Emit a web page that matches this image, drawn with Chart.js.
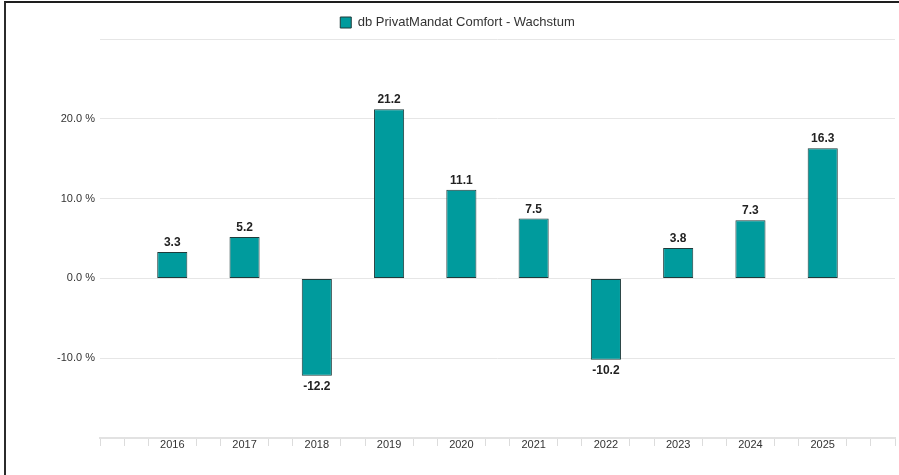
<!DOCTYPE html>
<html>
<head>
<meta charset="utf-8">
<script src="https://cdn.jsdelivr.net/npm/chart.js@4"></script>
<style>
  html, body { margin: 0; padding: 0; background: #fff; }
  #wrap { position: relative; width: 899px; height: 475px; }
  #frame {
    position: absolute; left: 4px; top: 1px; right: 0; bottom: 0;
    border-left: 2px solid #2b2b2b; border-top: 2px solid #1e1e1e;
    pointer-events: none;
  }
</style>
</head>
<body>
<div id="wrap">
  <canvas id="grafikWachstum"></canvas>
  <div id="frame"></div>
</div>
<script>
const years = [2016, 2017, 2018, 2019, 2020, 2021, 2022, 2023, 2024, 2025];
const wachstum = [3.3, 5.2, -12.2, 21.2, 11.1, 7.5, -10.2, 3.8, 7.3, 16.3];
const yTickLabels = [20, 10, 0, -10];
const seriesName = 'db PrivatMandat Comfort - Wachstum';

const xMin = years[0] - 1;
const xMax = years[years.length - 1] + 1;

function isYear(v) {
    const r = Math.round(v);
    return Math.abs(v - r) < 1e-6 && years.includes(r);
}

// Werte ueber/unter den Balken
const valueLabels = {
    id: 'valueLabels',
    afterDatasetsDraw(chart) {
        const c = chart.ctx;
        const meta = chart.getDatasetMeta(0);
        c.save();
        c.font = 'bold 12px "Liberation Sans", Arial, sans-serif';
        c.fillStyle = '#222';
        c.textAlign = 'center';
        meta.data.forEach((bar, i) => {
            const v = wachstum[i];
            if (v >= 0) {
                c.textBaseline = 'alphabetic';
                c.fillText(v.toFixed(1), bar.x, bar.y - 6);
            } else {
                c.textBaseline = 'top';
                c.fillText(v.toFixed(1), bar.x, bar.y + 5);
            }
        });
        c.restore();
    }
};

const ctx = document.getElementById('grafikWachstum').getContext('2d');

const dataWachstum = {
    datasets: [{
        label: seriesName,
        data: years.map((y, i) => ({ x: y, y: wachstum[i] })),
        backgroundColor: '#009b9d',
        borderColor: '#1f3b3b',
        borderWidth: 1,
        borderSkipped: false,
        categoryPercentage: 1,
        barPercentage: 1.25,
    }]
};

const configWachstum = {
    type: 'bar',
    data: dataWachstum,
    plugins: [valueLabels],
    options: {
        responsive: true,
        maintainAspectRatio: false,
        animation: false,
        layout: { padding: { top: 8, right: 4, left: 20, bottom: 0 } },
        scales: {
            x: {
                type: 'linear',
                offset: false,
                min: xMin,
                max: xMax,
                afterBuildTicks: (scale) => {
                    const t = [];
                    for (let i = 0; i <= (xMax - xMin) * 3; i++) t.push({ value: xMin + i / 3 });
                    scale.ticks = t;
                },
                afterFit: (scale) => { scale.height = 37; },
                border: { display: true, color: '#e2e2e2', width: 2 },
                grid: {
                    offset: false,
                    drawOnChartArea: false,
                    drawTicks: true,
                    tickLength: 8,
                    tickColor: (c) => (c.tick && isYear(c.tick.value)) ? 'rgba(0,0,0,0)' : '#dcdcdc',
                },
                ticks: {
                    autoSkip: false,
                    maxRotation: 0,
                    padding: -8,
                    color: '#333',
                    font: { family: '"Liberation Sans", Arial, sans-serif', size: 11 },
                    callback: (v) => isYear(v) ? String(Math.round(v)) : '',
                }
            },
            y: {
                min: -20,
                max: 30,
                afterFit: (scale) => { scale.width = 80; },
                border: { display: false },
                grid: { color: '#e6e6e6', drawTicks: false },
                ticks: {
                    stepSize: 10,
                    padding: 5,
                    color: '#333',
                    font: { family: '"Liberation Sans", Arial, sans-serif', size: 11 },
                    callback: (v) => yTickLabels.includes(v) ? v.toFixed(1) + ' %' : '',
                }
            }
        },
        plugins: {
            legend: {
                display: true,
                position: 'top',
                labels: {
                    boxWidth: 11,
                    boxHeight: 11,
                    padding: 8,
                    color: '#333',
                    font: { family: '"Liberation Sans", Arial, sans-serif', size: 13 },
                }
            },
            tooltip: { enabled: false },
        }
    }
};

const grafikWachstum = new Chart(ctx, configWachstum);
</script>
</body>
</html>
